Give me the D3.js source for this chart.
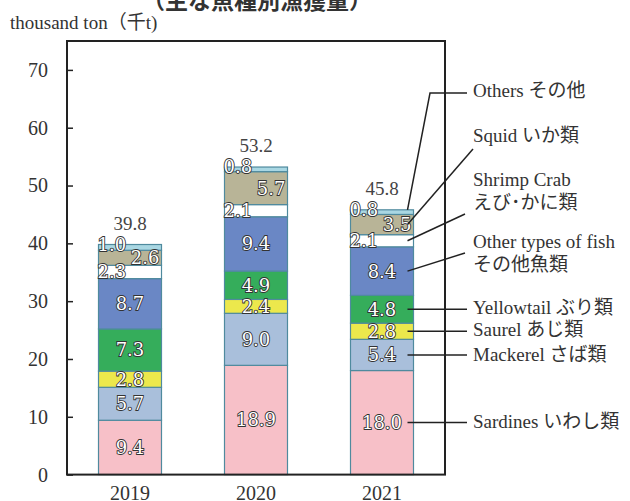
<!DOCTYPE html>
<html>
<head>
<meta charset="utf-8">
<script src="https://cdn.jsdelivr.net/npm/d3@7"></script>
<style>
  body { margin: 0; background: #fff; }
  .chart { width: 630px; height: 501px; }
  text { font-family: "Liberation Serif", "Noto Sans CJK JP", serif; fill: #333; }
</style>
</head>
<body>
<div class="chart"></div>
<script>
// data, bottom of the stack first
const years = ['2019', '2020', '2021'];
const sardines = [9.4, 18.9, 18.0];
const mackerel = [5.7, 9.0, 5.4];
const saurel = [2.8, 2.4, 2.8];
const yellowtail = [7.3, 4.9, 4.8];
const otherFish = [8.7, 9.4, 8.4];
const shrimpCrab = [2.3, 2.1, 2.1];
const squid = [2.6, 5.7, 3.5];
const others = [1.0, 0.8, 0.8];
const totals = [39.8, 53.2, 45.8];
const yTicks = [0, 10, 20, 30, 40, 50, 60, 70];

const seriesKeys = ['sardines', 'mackerel', 'saurel', 'yellowtail', 'otherFish', 'shrimpCrab', 'squid', 'others'];
const seriesValues = [sardines, mackerel, saurel, yellowtail, otherFish, shrimpCrab, squid, others];
const seriesLabels = [
  ['Sardines いわし類'],
  ['Mackerel さば類'],
  ['Saurel あじ類'],
  ['Yellowtail ぶり類'],
  ['Other types of fish', 'その他魚類'],
  ['Shrimp Crab', 'えび･かに類'],
  ['Squid いか類'],
  ['Others その他']
];

// styles / layout
const colors = {
  sardines: '#f7c0c8', mackerel: '#a9bfdb', saurel: '#ece84c', yellowtail: '#35ad5b',
  otherFish: '#6a87c5', shrimpCrab: '#ffffff', squid: '#b8b497', others: '#a9d7e3'
};
const labelAlign = { shrimpCrab: 'start', squid: 'end', others: 'start' };
// legend text baseline, leader anchor point and optional elbow
const legendLayout = {
  others:     { ty: 97,  ax: 467, ay: 93,  elbow: [430, 93] },
  squid:      { ty: 142, ax: 473, ay: 149 },
  shrimpCrab: { ty: 186, ax: 465, ay: 214 },
  otherFish:  { ty: 248, ax: 465, ay: 253 },
  yellowtail: { ty: 314, ax: 467, ay: null },
  saurel:     { ty: 336, ax: 467, ay: null },
  mackerel:   { ty: 361, ax: 467, ay: null },
  sardines:   { ty: 428, ax: 467, ay: null }
};

const plot = { left: 67, right: 445, top: 41, bottom: 474.6 };

const svg = d3.select('.chart').append('svg').attr('width', 630).attr('height', 501);

const xscale = d3.scaleBand().domain(years).range([plot.left, plot.right])
  .paddingInner(0.5).paddingOuter(0.25);
const yscale = d3.scaleLinear().domain([0, 75]).range([plot.bottom, plot.top]);

// stack the rows
const rows = years.map((y, i) => {
  const r = { year: y };
  seriesKeys.forEach((k, j) => { r[k] = seriesValues[j][i]; });
  return r;
});
const stacked = d3.stack().keys(seriesKeys)(rows);

// title (cut off at the top in the original)
svg.append('text')
  .attr('x', 257).attr('y', 9)
  .attr('text-anchor', 'middle')
  .style('font-family', '"Noto Sans CJK JP", sans-serif')
  .style('font-weight', 'bold').style('font-size', '23px')
  .text('（主な魚種別漁獲量）');

svg.append('text')
  .attr('x', 10).attr('y', 29)
  .style('font-size', '19px')
  .text('thousand ton（千t)');

// bars
const layer = svg.selectAll('g.layer').data(stacked).enter().append('g')
  .attr('class', 'layer')
  .attr('fill', d => colors[d.key]);

layer.selectAll('rect').data(d => d).enter().append('rect')
  .attr('x', d => xscale(d.data.year))
  .attr('y', d => yscale(d[1]))
  .attr('width', xscale.bandwidth())
  .attr('height', d => yscale(d[0]) - yscale(d[1]))
  .attr('stroke', '#4f8a9e')
  .attr('stroke-width', 1.2);

// segment labels
stacked.forEach(s => {
  const align = labelAlign[s.key] || 'middle';
  svg.append('g').selectAll('text').data(s).enter().append('text')
    .attr('x', d => {
      const x0 = xscale(d.data.year);
      if (align === 'start') return x0 - 1;
      if (align === 'end') return x0 + xscale.bandwidth() - 2;
      return x0 + xscale.bandwidth() / 2;
    })
    .attr('y', d => (yscale(d[0]) + yscale(d[1])) / 2 + (s.key === 'others' ? -3 : 0))
    .attr('dy', '0.36em')
    .attr('text-anchor', align)
    .style('font-family', '"DejaVu Serif", serif')
    .style('font-size', '18px')
    .style('fill', '#fff')
    .style('stroke', '#333')
    .style('stroke-width', 1.8)
    .style('paint-order', 'stroke')
    .text(d => (d[1] - d[0]).toFixed(1));
});

// totals
svg.append('g').selectAll('text').data(totals).enter().append('text')
  .attr('x', (d, i) => xscale(years[i]) + xscale.bandwidth() / 2)
  .attr('y', d => yscale(d) - 15)
  .attr('text-anchor', 'middle')
  .style('font-size', '19px')
  .style('fill', '#444')
  .text(d => d.toFixed(1));

// frame
svg.append('rect')
  .attr('x', plot.left).attr('y', plot.top)
  .attr('width', plot.right - plot.left).attr('height', plot.bottom - plot.top)
  .attr('fill', 'none').attr('stroke', '#222').attr('stroke-width', 2);

// axes
const y_axis = d3.axisLeft(yscale).tickValues(yTicks).tickSize(-6).tickPadding(19);
const gy = svg.append('g').attr('transform', 'translate(' + plot.left + ',0)').call(y_axis);
gy.select('.domain').remove();
gy.selectAll('line').attr('stroke', '#222').attr('stroke-width', 1.5);
gy.selectAll('text').style('font-size', '20px').style('font-family', '"Liberation Serif", serif').attr('fill', '#333');

const x_axis = d3.axisBottom(xscale).tickSize(0).tickPadding(11);
const gx = svg.append('g').attr('transform', 'translate(0,' + plot.bottom + ')').call(x_axis);
gx.select('.domain').remove();
gx.selectAll('text').style('font-size', '20px').style('font-family', '"Liberation Serif", serif').attr('fill', '#333');

// legend with leader lines to the 2021 bar
const last = years.length - 1;
const barX = xscale(years[last]) + xscale.bandwidth() - 6;
const legendX = 473;
stacked.forEach((s, j) => {
  const lay = legendLayout[s.key];
  const seg = s[last];
  const yAt = s.key === 'others' ? yscale(seg[1]) : (yscale(seg[0]) + yscale(seg[1])) / 2;
  const pts = [[barX, yAt]];
  if (lay.elbow) pts.push(lay.elbow);
  pts.push([lay.ax, lay.ay === null ? yAt : lay.ay]);
  svg.append('path')
    .attr('d', d3.line()(pts))
    .attr('fill', 'none')
    .attr('stroke', '#222')
    .attr('stroke-width', 1.5);

  const t = svg.append('text')
    .attr('x', legendX).attr('y', lay.ty)
    .style('font-size', '19px');
  seriesLabels[j].forEach((line, k) => {
    t.append('tspan').attr('x', legendX).attr('dy', k === 0 ? 0 : 23).text(line);
  });
});
</script>
</body>
</html>
